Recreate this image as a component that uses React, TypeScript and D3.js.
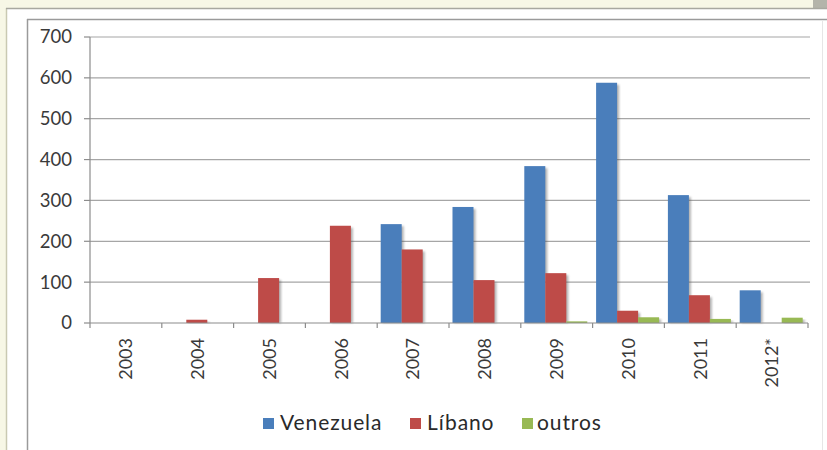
import React from "react";
import * as d3 from "d3";

const years = ["2003", "2004", "2005", "2006", "2007", "2008", "2009", "2010", "2011", "2012*"];
const venezuela = [0, 0, 0, 0, 242, 284, 384, 588, 313, 80];
const libano = [0, 8, 110, 238, 180, 105, 122, 30, 68, 0];
const outros = [0, 0, 0, 0, 0, 0, 4, 14, 10, 13];
const seriesNames = ["Venezuela", "Líbano", "outros"];
const seriesColors = ["#4A7EBB", "#BE4B48", "#98B954"];
const yTicks = [0, 100, 200, 300, 400, 500, 600, 700];

const W = 827;
const H = 450;
const plot = { left: 90, right: 808, top: 37, bottom: 323 };

export default function App() {
  const seriesValues = [venezuela, libano, outros];
  const x = d3.scaleBand<string>().domain(years).range([plot.left, plot.right]).padding(0);
  const bw = x.bandwidth();
  const inner = d3
    .scaleBand<string>()
    .domain(seriesNames)
    .range([3.5, 3.5 + 63])
    .padding(0);
  const y = d3.scaleLinear().domain([0, 700]).range([plot.bottom, plot.top]);
  const font = "Lato, 'Open Sans', sans-serif";

  const legendItems = [
    { x: 263, textX: 280 },
    { x: 410, textX: 427 },
    { x: 522, textX: 537 },
  ];

  return (
    <svg
      width={W}
      height={H}
      style={{ position: "fixed", left: 0, top: 0, display: "block", background: "#fff" }}
    >
      <defs>
        <filter id="sh" x="-20%" y="-20%" width="160%" height="140%">
          <feGaussianBlur stdDeviation="1.2" />
        </filter>
      </defs>
      {/* outer frame */}
      <rect x={0} y={0} width={W} height={8} fill="#f7f7e6" />
      <rect x={0} y={0} width={6} height={H} fill="#f7f7e6" />
      <rect x={813} y={0} width={14} height={8} fill="#b4b4aa" />
      <line x1={6.5} y1={8} x2={6.5} y2={H} stroke="#c9c9b2" strokeWidth={1.5} />
      <line x1={6} y1={8.5} x2={W} y2={8.5} stroke="#a8a8a0" strokeWidth={1.5} />
      <line x1={27.5} y1={19} x2={27.5} y2={H} stroke="#9a9a9a" strokeWidth={1.5} />
      <line x1={27} y1={19.5} x2={W} y2={19.5} stroke="#9a9a9a" strokeWidth={1.5} />
      <line x1={822.5} y1={20} x2={822.5} y2={H} stroke="#e6e6e6" strokeWidth={1} />

      {/* gridlines */}
      {yTicks.map((t) => (
        <g key={t}>
          {t > 0 && (
            <line x1={plot.left} x2={810} y1={y(t)} y2={y(t)} stroke="#a6a6a6" strokeWidth={1.2} />
          )}
          <line x1={84} x2={plot.left} y1={y(t)} y2={y(t)} stroke="#8c8c8c" strokeWidth={1.2} />
          <text
            x={72}
            y={y(t)}
            dy="0.35em"
            textAnchor="end"
            fontFamily={font}
            fontSize={18.5}
            fill="#3a3a3a"
          >
            {t}
          </text>
        </g>
      ))}

      {/* bars */}
      {years.map((yr, i) => (
        <g key={yr}>
          {seriesNames.map((s, k) => {
            const v = seriesValues[k][i];
            if (v <= 0) return null;
            const bx = (x(yr) as number) + (inner(s) as number);
            const by = y(v);
            const h = y(0) - by;
            return (
              <g key={s}>
                <rect
                  x={bx + 2}
                  y={by + 2}
                  width={inner.bandwidth()}
                  height={Math.max(0, h - 2)}
                  fill="#555"
                  opacity={0.45}
                  filter="url(#sh)"
                />
                <rect x={bx} y={by} width={inner.bandwidth()} height={h} fill={seriesColors[k]} />
              </g>
            );
          })}
        </g>
      ))}

      {/* axes */}
      <line x1={plot.left} x2={plot.left} y1={plot.top} y2={plot.bottom} stroke="#8c8c8c" strokeWidth={1.2} />
      <line x1={plot.left} x2={plot.right} y1={plot.bottom} y2={plot.bottom} stroke="#8c8c8c" strokeWidth={1.2} />
      {[...years.map((yr) => x(yr) as number), plot.right].map((tx, i) => (
        <line key={i} x1={tx} x2={tx} y1={plot.bottom} y2={plot.bottom + 5} stroke="#8c8c8c" strokeWidth={1.2} />
      ))}
      {years.map((yr) => {
        const cx = (x(yr) as number) + bw / 2;
        return (
          <text
            key={yr}
            transform={`translate(${cx},338) rotate(-90)`}
            textAnchor="end"
            dy="0.35em"
            fontFamily={font}
            fontSize={18}
            fill="#3a3a3a"
          >
            {yr}
          </text>
        );
      })}

      {/* legend */}
      {seriesNames.map((s, k) => (
        <g key={s}>
          <rect x={legendItems[k].x} y={418} width={11} height={11} fill={seriesColors[k]} />
          <text
            x={legendItems[k].textX}
            y={430}
            fontFamily={font}
            fontSize={21}
            letterSpacing={0.9}
            fill="#2a2a2a"
          >
            {s}
          </text>
        </g>
      ))}
    </svg>
  );
}
